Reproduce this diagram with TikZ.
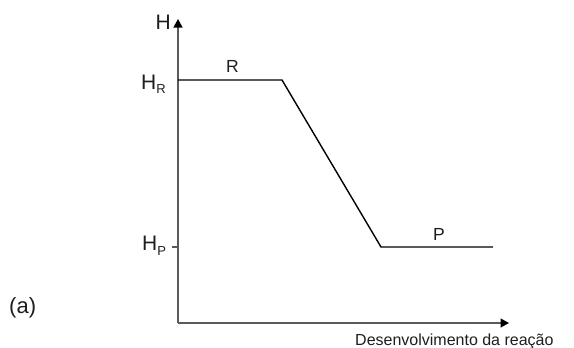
\documentclass[tikz,border=0pt]{standalone}
\usepackage{fontspec}
\setmainfont{Liberation Sans}
\usetikzlibrary{arrows.meta}
\definecolor{axisgray}{HTML}{5A5A5A}
\definecolor{txt}{HTML}{1E1E1E}
\begin{document}
\begin{tikzpicture}[x=1pt,y=-1pt,
  axis/.style={draw=axisgray,line width=1.4pt,-{Triangle[length=8.5pt,width=9pt,color=black]}},
  curve/.style={draw=black,line width=1.4pt,line join=miter},
  lbl/.style={inner sep=0pt,text=txt,anchor=base west}]
\useasboundingbox (0,0) rectangle (574,348);
\coordinate (O) at (178,323);
\coordinate (ytip) at (178,19);
\coordinate (xtip) at (509,323);
\draw[axis] (O) -- (ytip);
\draw[axis] (O) -- (xtip);
\coordinate (r0) at (178,80);
\coordinate (r1) at (282,80);
\coordinate (p0) at (381,247);
\coordinate (p1) at (493,247);
\draw[curve] (r0) -- (r1) -- (p0) -- (p1);
\coordinate (tp) at (172,247);
\coordinate (tq) at (178,247);
\draw[axisgray,line width=1.2pt] (tp) -- (tq);
\node[lbl,font=\fontsize{21}{21}\selectfont] (H) at (155.5,29) {H};
\node[lbl,font=\fontsize{21}{21}\selectfont] (HR) at (141,89) {H\raisebox{-4.5pt}{\fontsize{13}{13}\selectfont R}};
\node[lbl,font=\fontsize{21}{21}\selectfont] (HP) at (142,250) {H\raisebox{-5pt}{\fontsize{13}{13}\selectfont P}};
\node[lbl,font=\fontsize{17.5}{17.5}\selectfont] (R) at (226,72) {R};
\node[lbl,font=\fontsize{17.5}{17.5}\selectfont] (P) at (433,240) {P};
\node[lbl,font=\fontsize{16}{16}\selectfont] (xl) at (355,345) {Desenvolvimento da reação};
\node[lbl,font=\fontsize{22}{22}\selectfont] (a) at (9,313) {(a)};
\end{tikzpicture}
\end{document}
